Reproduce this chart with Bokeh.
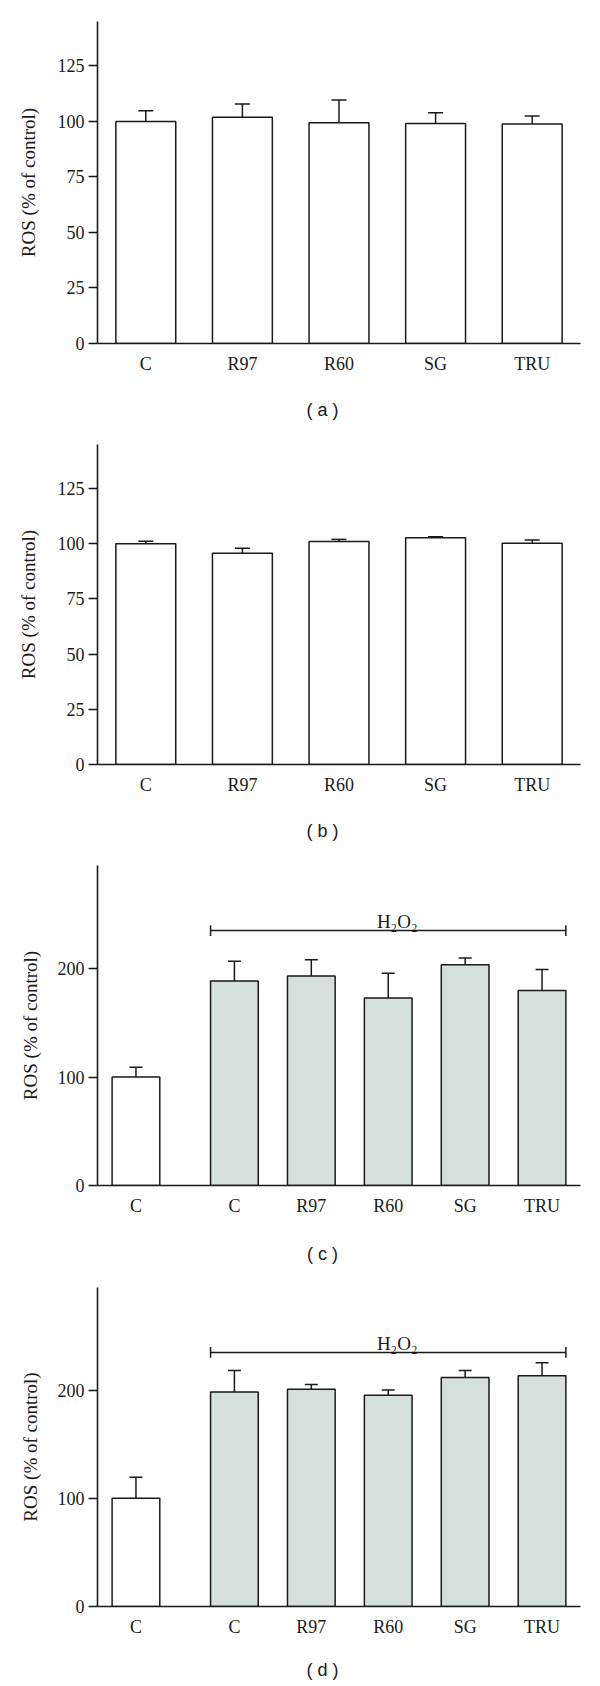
from bokeh.plotting import figure
from bokeh.models import (ColumnDataSource, FactorRange, Range1d, FixedTicker,
                          Whisker, TeeHead)
from bokeh.layouts import column
from bokeh.embed import file_html
from bokeh.resources import INLINE
from bokeh.core.properties import value

# ---------------- data ----------------
categories = ["C", "R97", "R60", "SG", "TRU"]

a_values = [100.0, 101.9, 99.4, 99.1, 98.8]
a_errors = [4.8, 5.9, 10.2, 4.8, 3.7]

b_values = [100.0, 95.7, 101.1, 102.7, 100.2]
b_errors = [1.2, 2.3, 0.9, 0.5, 1.5]

control_label = "C"
c_control_value = 100.0
c_control_error = 9.1
c_values = [188.5, 193.2, 172.9, 203.5, 179.7]
c_errors = [18.3, 15.0, 22.8, 6.3, 19.4]

d_control_value = 100.0
d_control_error = 19.6
d_values = [198.3, 200.8, 195.4, 211.8, 213.3]
d_errors = [19.9, 4.4, 4.9, 6.5, 12.0]

ab_ticks = [0, 25, 50, 75, 100, 125]
cd_ticks = [0, 100, 200]
h2o2_text = "H\u2082O\u2082"
captions = ["( a )", "( b )", "( c )", "( d )"]

# ---------------- style / layout ----------------
SERIF = "Liberation Serif"
SANS = "Liberation Sans"
INK = "#1a1a1a"
GRAY_FILL = "#d5dfdc"
BAR_W = 0.62
GROUP_PAD = 0.28
W = 600
LEFT = 97      # frame left (px)
RIGHT = 580    # frame right (px)
CAP_X = 322    # caption centre (px)


def base_fig(x_range, height, top, bottom_border, yend, ticks, label_standoff):
    p = figure(x_range=x_range, width=W, height=height, output_backend="svg",
               toolbar_location=None, title=None, y_range=Range1d(0, yend),
               min_border_left=LEFT, min_border_right=W - RIGHT,
               min_border_top=top, min_border_bottom=bottom_border)
    p.outline_line_color = None
    p.background_fill_color = "white"
    p.border_fill_color = "white"
    p.grid.visible = False
    p.yaxis.ticker = FixedTicker(ticks=ticks)
    p.yaxis.minor_tick_line_color = None
    p.yaxis.major_tick_out = 9
    p.yaxis.major_tick_in = 0
    p.yaxis.major_label_standoff = 4
    p.yaxis.axis_label = "ROS (% of control)"
    p.yaxis.axis_label_text_font = SERIF
    p.yaxis.axis_label_text_font_size = "19px"
    p.yaxis.axis_label_text_font_style = "normal"
    p.yaxis.axis_label_text_color = INK
    p.yaxis.axis_label_standoff = label_standoff
    for ax in (p.xaxis, p.yaxis):
        ax.axis_line_width = 1.6
        ax.axis_line_color = INK
        ax.major_tick_line_width = 1.6
        ax.major_tick_line_color = INK
        ax.major_label_text_font = SERIF
        ax.major_label_text_font_size = "18px"
        ax.major_label_text_color = INK
    p.xaxis.major_tick_out = 0
    p.xaxis.major_tick_in = 0
    p.xaxis.minor_tick_line_color = None
    p.xaxis.major_label_standoff = 10
    return p


def caption_strip(text, height, center_from_top):
    s = figure(width=W, height=height, output_backend="svg", toolbar_location=None,
               title=None, x_axis_type=None, y_axis_type=None,
               x_range=Range1d(LEFT, RIGHT), y_range=Range1d(0, height),
               min_border_left=LEFT, min_border_right=W - RIGHT,
               min_border_top=0, min_border_bottom=0)
    s.outline_line_color = None
    s.background_fill_color = "white"
    s.border_fill_color = "white"
    s.text(x=[CAP_X], y=[height - center_from_top], text=[text],
           text_align="center", text_baseline="middle",
           text_font=value(SANS), text_font_size="18px", text_color=INK)
    return s


def simple_panel(vals, errs, height, top, bottom_border, standoff):
    xr = FactorRange(*categories, range_padding=0)
    p = base_fig(xr, height, top, bottom_border, 145, ab_ticks, standoff)
    src = ColumnDataSource(dict(x=categories, top=vals,
                                up=[v + e for v, e in zip(vals, errs)]))
    p.vbar(x="x", top="top", bottom=0, width=BAR_W, source=src,
           fill_color="white", line_color=INK, line_width=1.5)
    p.add_layout(Whisker(source=src, base="x", lower="top", upper="up",
                         dimension="height", line_color=INK, line_width=1.5,
                         lower_head=None,
                         upper_head=TeeHead(size=15, line_color=INK, line_width=1.5)))
    return p


def h2o2_panel(ctrl_val, ctrl_err, vals, errs, height, top, bottom_border, standoff):
    factors = [("ctrl", control_label)] + [("H2O2", c) for c in categories]
    xr = FactorRange(*factors, range_padding=0, group_padding=GROUP_PAD)
    p = base_fig(xr, height, top, bottom_border, 295, cd_ticks, standoff)
    p.xaxis.group_text_font_size = "0px"
    p.xaxis.group_text_color = None
    p.xaxis.separator_line_color = None
    all_vals = [ctrl_val] + vals
    all_errs = [ctrl_err] + errs
    fills = ["white"] + [GRAY_FILL] * len(vals)
    src = ColumnDataSource(dict(x=factors, top=all_vals, fill=fills,
                                up=[v + e for v, e in zip(all_vals, all_errs)]))
    p.vbar(x="x", top="top", bottom=0, width=BAR_W, source=src,
           fill_color="fill", line_color=INK, line_width=1.5)
    p.add_layout(Whisker(source=src, base="x", lower="top", upper="up",
                         dimension="height", line_color=INK, line_width=1.5,
                         lower_head=None,
                         upper_head=TeeHead(size=13, line_color=INK, line_width=1.5)))
    # H2O2 bracket over the treated bars
    y_br = 235
    first = ("H2O2", categories[0], -BAR_W / 2)
    last = ("H2O2", categories[-1], BAR_W / 2)
    br = ColumnDataSource(dict(x0=[first, first, last], x1=[last, first, last],
                               y0=[y_br, y_br - 5, y_br - 5],
                               y1=[y_br, y_br + 5, y_br + 5]))
    p.segment(x0="x0", y0="y0", x1="x1", y1="y1", source=br,
              line_color=INK, line_width=1.5)
    mid = ("H2O2", categories[2], 0)
    p.text(x=[mid], y=[243], text=[h2o2_text], text_align="center",
           text_baseline="alphabetic", text_font=value(SERIF), x_offset=9,
           text_font_size="19px", text_color=INK)
    return p


pa = simple_panel(a_values, a_errors, 390, 21, 47, 16)
cap_a = caption_strip(captions[0], 40, 19)
pb = simple_panel(b_values, b_errors, 380, 14, 46, 16)
cap_b = caption_strip(captions[1], 40, 20)
pc = h2o2_panel(c_control_value, c_control_error, c_values, c_errors, 380, 15, 45, 14)
cap_c = caption_strip(captions[2], 42, 23)
pd = h2o2_panel(d_control_value, d_control_error, d_values, d_errors, 378, 15, 44, 14)
cap_d = caption_strip(captions[3], 34, 19)

layout = column(pa, cap_a, pb, cap_b, pc, cap_c, pd, cap_d, spacing=0)
open("out.html", "w").write(file_html(layout, INLINE))
